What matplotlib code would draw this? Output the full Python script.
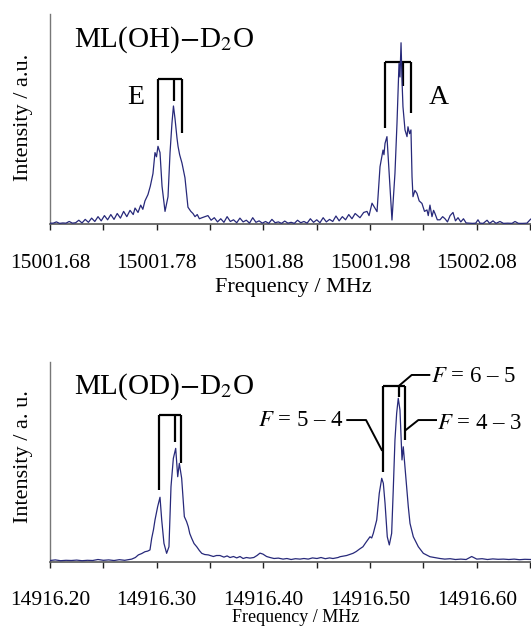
import matplotlib
matplotlib.use('Agg')
import matplotlib.pyplot as plt
from matplotlib.ticker import AutoMinorLocator

plt.rcParams['font.family'] = ['Liberation Serif', 'DejaVu Serif']
plt.rcParams['mathtext.fontset'] = 'stix'

# ---------------- data: ML(OH)-D2O spectrum ----------------
oh_freq = [
    15001.680, 15001.683, 15001.686, 15001.689, 15001.692, 15001.695, 15001.698, 15001.701,
    15001.704, 15001.707, 15001.710, 15001.713, 15001.716, 15001.719, 15001.722, 15001.725,
    15001.728, 15001.731, 15001.734, 15001.737, 15001.740, 15001.743, 15001.746, 15001.749,
    15001.752, 15001.755, 15001.7580, 15001.7597, 15001.7625, 15001.7650, 15001.7670,
    15001.7690, 15001.7718, 15001.7740, 15001.7765, 15001.7784, 15001.7798, 15001.7812,
    15001.7831, 15001.7850, 15001.7878, 15001.7906, 15001.7925, 15001.7943, 15001.7957,
    15001.7972, 15001.7990, 15001.8000, 15001.8015, 15001.8037, 15001.8065, 15001.8093,
    15001.8120, 15001.8140, 15001.8159, 15001.8180, 15001.8200, 15001.8225,
    15001.828, 15001.831, 15001.834, 15001.837, 15001.840, 15001.843, 15001.846, 15001.849,
    15001.852, 15001.855, 15001.858, 15001.861, 15001.864, 15001.867, 15001.870, 15001.873,
    15001.876, 15001.879, 15001.882, 15001.885, 15001.888, 15001.891, 15001.894, 15001.897,
    15001.900, 15001.903, 15001.906, 15001.909, 15001.912, 15001.915, 15001.918, 15001.921,
    15001.924, 15001.927, 15001.930, 15001.933, 15001.936, 15001.939, 15001.942, 15001.945,
    15001.948, 15001.951, 15001.954, 15001.957, 15001.960, 15001.963, 15001.966,
    15001.9705, 15001.9740, 15001.9771, 15001.9790, 15001.9818, 15001.9840, 15001.9865,
    15001.9893, 15001.9921, 15001.9930, 15001.9940, 15001.9958, 15001.9977, 15002.0005,
    15002.0033, 15002.0052, 15002.0071, 15002.0080, 15002.0090, 15002.0099, 15002.0108,
    15002.0127, 15002.0146, 15002.0155, 15002.0170, 15002.0183, 15002.0193, 15002.0202,
    15002.0220, 15002.0239, 15002.0260, 15002.0286, 15002.0310, 15002.0333, 15002.0345,
    15002.0361, 15002.0380, 15002.0395, 15002.0408, 15002.0430, 15002.0455,
    15002.0480, 15002.0502, 15002.0525, 15002.0550, 15002.0577, 15002.0600, 15002.0624,
    15002.0650, 15002.0675, 15002.0700, 15002.0725, 15002.0760, 15002.0790, 15002.0811,
    15002.0830, 15002.0860, 15002.0896, 15002.0920, 15002.0952, 15002.0980, 15002.1017,
    15002.1050, 15002.1090, 15002.1130, 15002.1158, 15002.1190, 15002.1230, 15002.1270,
    15002.1299, 15002.1310,
]
oh_int = [
    0.004, 0.004, 0.010, 0.003, 0.005, 0.004, 0.012, 0.004,
    0.006, 0.018, 0.005, 0.022, 0.008, 0.028, 0.012, 0.035,
    0.015, 0.040, 0.020, 0.045, 0.022, 0.050, 0.028, 0.060,
    0.035, 0.065, 0.045, 0.076, 0.055, 0.090, 0.070,
    0.110, 0.140, 0.180, 0.240, 0.340, 0.320, 0.370,
    0.340, 0.180, 0.060, 0.130, 0.340, 0.480, 0.562,
    0.500, 0.410, 0.370, 0.330, 0.290, 0.220, 0.080,
    0.060, 0.050, 0.035, 0.045, 0.025, 0.030,
    0.040, 0.018, 0.030, 0.010, 0.025, 0.008, 0.035, 0.012,
    0.020, 0.006, 0.028, 0.010, 0.018, 0.004, 0.030, 0.008,
    0.015, 0.004, 0.012, 0.003, 0.022, 0.006, 0.010, 0.003,
    0.014, 0.004, 0.008, 0.003, 0.018, 0.006, 0.012, 0.004,
    0.025, 0.008, 0.020, 0.006, 0.030, 0.010, 0.022, 0.012,
    0.038, 0.015, 0.035, 0.020, 0.045, 0.025, 0.050,
    0.030, 0.055, 0.060, 0.040, 0.099, 0.080, 0.059,
    0.273, 0.352, 0.330, 0.384, 0.416, 0.257, 0.019,
    0.241, 0.479, 0.765, 0.700, 0.863, 0.686, 0.559,
    0.448, 0.416, 0.463, 0.430, 0.448, 0.225, 0.130,
    0.160, 0.146, 0.110, 0.098, 0.060, 0.067, 0.040,
    0.090, 0.035, 0.065, 0.050, 0.020, 0.020,
    0.035, 0.025, 0.010, 0.040, 0.055, 0.015, 0.030,
    0.010, 0.025, 0.005, 0.004, 0.003, 0.004, 0.020,
    0.004, 0.003, 0.018, 0.003, 0.015, 0.003, 0.012,
    0.003, 0.004, 0.003, 0.012, 0.003, 0.003, 0.004,
    0.020, 0.025,
]

# ---------------- data: ML(OD)-D2O spectrum ----------------
od_freq = [
    14916.200, 14916.205, 14916.210, 14916.215, 14916.220, 14916.225, 14916.230, 14916.235,
    14916.240, 14916.245, 14916.250, 14916.255, 14916.260, 14916.265, 14916.270, 14916.2766,
    14916.2800, 14916.2828, 14916.2860, 14916.2890, 14916.2915, 14916.2937, 14916.2953,
    14916.2970, 14916.2984, 14916.3009, 14916.3031, 14916.3047, 14916.3068, 14916.3093,
    14916.3115, 14916.3134, 14916.3156, 14916.3178, 14916.3197, 14916.3212, 14916.3234,
    14916.3259, 14916.3280, 14916.3296, 14916.3310, 14916.3328, 14916.3350, 14916.3375,
    14916.3400, 14916.3422, 14916.3450, 14916.3484, 14916.3531,
    14916.3560, 14916.3593, 14916.3630, 14916.3660, 14916.3687, 14916.3720, 14916.3750,
    14916.3781, 14916.3810, 14916.3840, 14916.3874, 14916.3910, 14916.3940, 14916.3968,
    14916.3996, 14916.4030, 14916.4062, 14916.4100, 14916.4140, 14916.4184, 14916.4220,
    14916.4260, 14916.4300, 14916.4343, 14916.4380, 14916.4420, 14916.4460, 14916.4502,
    14916.4540, 14916.4580, 14916.4620, 14916.4652, 14916.4700, 14916.4718,
    14916.4780, 14916.4840, 14916.4870, 14916.4900, 14916.4933, 14916.4960, 14916.4999,
    14916.5015, 14916.5030, 14916.5062, 14916.5086, 14916.5109, 14916.5124, 14916.5140,
    14916.5161, 14916.5180, 14916.5202, 14916.5217, 14916.5233, 14916.5249, 14916.5264,
    14916.5280, 14916.5292, 14916.5299, 14916.5311, 14916.5327, 14916.5343, 14916.5358,
    14916.5374, 14916.5405, 14916.5452, 14916.5499, 14916.5561, 14916.5655,
    14916.5700, 14916.5750, 14916.5800, 14916.5850, 14916.5900, 14916.5952, 14916.6000,
    14916.6050, 14916.6100, 14916.6150, 14916.6200, 14916.6250, 14916.6300, 14916.6350,
    14916.6400, 14916.6450, 14916.6508,
]
od_int = [
    0.005, 0.008, 0.004, 0.006, 0.005, 0.007, 0.004, 0.006,
    0.005, 0.010, 0.006, 0.008, 0.005, 0.009, 0.006, 0.012,
    0.020, 0.033, 0.040, 0.049, 0.052, 0.058, 0.116,
    0.160, 0.208, 0.275, 0.322, 0.208, 0.091, 0.041,
    0.074, 0.375, 0.517, 0.567, 0.425, 0.492, 0.417,
    0.225, 0.200, 0.174, 0.140, 0.116, 0.090, 0.074,
    0.055, 0.041, 0.035, 0.033, 0.025,
    0.030, 0.030, 0.022, 0.028, 0.020, 0.025, 0.018,
    0.025, 0.015, 0.020, 0.017, 0.020, 0.030, 0.042,
    0.037, 0.025, 0.020, 0.015, 0.017, 0.012, 0.015,
    0.010, 0.014, 0.012, 0.015, 0.012, 0.018, 0.015,
    0.020, 0.014, 0.018, 0.015, 0.020, 0.024,
    0.030, 0.041, 0.050, 0.062, 0.074, 0.095, 0.124,
    0.118, 0.141, 0.208, 0.342, 0.417, 0.392, 0.292,
    0.124, 0.083, 0.141, 0.358, 0.609, 0.743, 0.818,
    0.759, 0.592, 0.509, 0.575, 0.475, 0.375, 0.275,
    0.191, 0.124, 0.074, 0.041, 0.024, 0.015,
    0.012, 0.014, 0.010, 0.012, 0.010, 0.025, 0.012,
    0.014, 0.010, 0.013, 0.011, 0.012, 0.010, 0.012,
    0.009, 0.011, 0.010,
]

# tick values (labels shown with two decimals)
oh_ticks = [15001.68, 15001.78, 15001.88, 15001.98, 15002.08]
od_ticks = [14916.20, 14916.30, 14916.40, 14916.50, 14916.60]

# bracket (hyperfine component) positions: frequencies and lower ends
oh_E_lines = [15001.7813, 15001.7966, 15001.8039]
oh_E_ends = [0.400, 0.586, 0.433]
oh_E_top = 0.690
oh_A_lines = [15001.9943, 15002.0108, 15002.0187]
oh_A_ends = [0.457, 0.657, 0.529]
oh_A_top = 0.771

od_1_lines = [14916.3019, 14916.3172, 14916.3232]
od_1_ends = [0.358, 0.600, 0.492]
od_1_top = 0.734
od_2_lines = [14916.5118, 14916.5271, 14916.5327]
od_2_ends = [0.450, 0.826, 0.609]
od_2_top = 0.880

oh_xlim = (15001.68, 15002.1308)
od_xlim = (14916.20, 14916.6508)

W, H = 531, 626
fig = plt.figure(figsize=(W / 100, H / 100), dpi=100)


def fx(px):
    return px / W


def fy(py):
    return 1 - py / H


trace_color = '#27297a'
spine_color = '#777777'


def make_axes(top_px, bot_px, ticks):
    ax = fig.add_axes([fx(50), fy(bot_px), fx(531) - fx(50), fy(top_px) - fy(bot_px)])
    for s in ('top', 'right'):
        ax.spines[s].set_visible(False)
    ax.spines['left'].set_color(spine_color)
    ax.spines['bottom'].set_color('#555555')
    ax.spines['left'].set_linewidth(1.0)
    ax.spines['bottom'].set_linewidth(1.2)
    ax.set_yticks([])
    ax.set_ylim(0, 1)
    ax.set_xticks(ticks)
    ax.set_xticklabels(['%.2f' % t for t in ticks])
    ax.xaxis.set_minor_locator(AutoMinorLocator(2))
    ax.tick_params(axis='x', which='both', direction='out', length=4, width=1.0,
                   color='#222222', labelsize=15.5, pad=17.5)
    ax.patch.set_alpha(0)
    return ax


def bracket(ax, xs, ends, top):
    ax.plot([xs[0], xs[-1]], [top, top], color='black', lw=1.6, solid_capstyle='butt')
    for x, e in zip(xs, ends):
        ax.plot([x, x], [top, e], color='black', lw=1.6, solid_capstyle='butt')


# ---- top panel ----
ax1 = make_axes(14, 224, oh_ticks)
ax1.set_xlim(*oh_xlim)
ax1.plot(oh_freq, oh_int, color=trace_color, lw=0.9, zorder=3)
bracket(ax1, oh_E_lines, oh_E_ends, oh_E_top)
bracket(ax1, oh_A_lines, oh_A_ends, oh_A_top)

fig.text(fx(74.5), fy(40), r'ML(OH)$-$D$_2$O', fontsize=21, ha='left', va='center')
fig.text(fx(135.5), fy(97), 'E', fontsize=20, ha='center', va='center')
fig.text(fx(438.5), fy(97), 'A', fontsize=20, ha='center', va='center')
fig.text(fx(23.7), fy(117.5), 'Intensity / a.u.', fontsize=16, rotation=90,
         ha='center', va='center')
fig.text(fx(293), fy(287.5), 'Frequency / MHz', fontsize=16, ha='center', va='center')

# ---- bottom panel ----
ax2 = make_axes(362, 561.5, od_ticks)
ax2.set_xlim(*od_xlim)
ax2.plot(od_freq, od_int, color=trace_color, lw=0.9, zorder=3)
bracket(ax2, od_1_lines, od_1_ends, od_1_top)
bracket(ax2, od_2_lines, od_2_ends, od_2_top)

# leaders for F labels
ax2.plot([14916.5280, 14916.5390, 14916.5555], [0.885, 0.935, 0.935], color='black', lw=1.4)
ax2.plot([14916.5334, 14916.5452, 14916.5618], [0.659, 0.709, 0.709], color='black', lw=1.4)
ax2.plot([14916.5109, 14916.4962, 14916.4786], [0.559, 0.709, 0.709], color='black', lw=1.4)
ax2.text(14916.5568, 0.926, r'$F$ = 6 – 5', fontsize=16.5, ha='left', va='center')
ax2.text(14916.5624, 0.693, r'$F$ = 4 – 3', fontsize=16.5, ha='left', va='center')
ax2.text(14916.4752, 0.706, r'$F$ = 5 – 4', fontsize=16.5, ha='right', va='center')

fig.text(fx(74.5), fy(386.7), r'ML(OD)$-$D$_2$O', fontsize=21, ha='left', va='center')
fig.text(fx(23.7), fy(457), 'Intensity / a. u.', fontsize=16, rotation=90,
         ha='center', va='center')
fig.text(fx(295.7), fy(618), 'Frequency / MHz', fontsize=13, ha='center', va='center')

fig.savefig('out.png', dpi=100)
